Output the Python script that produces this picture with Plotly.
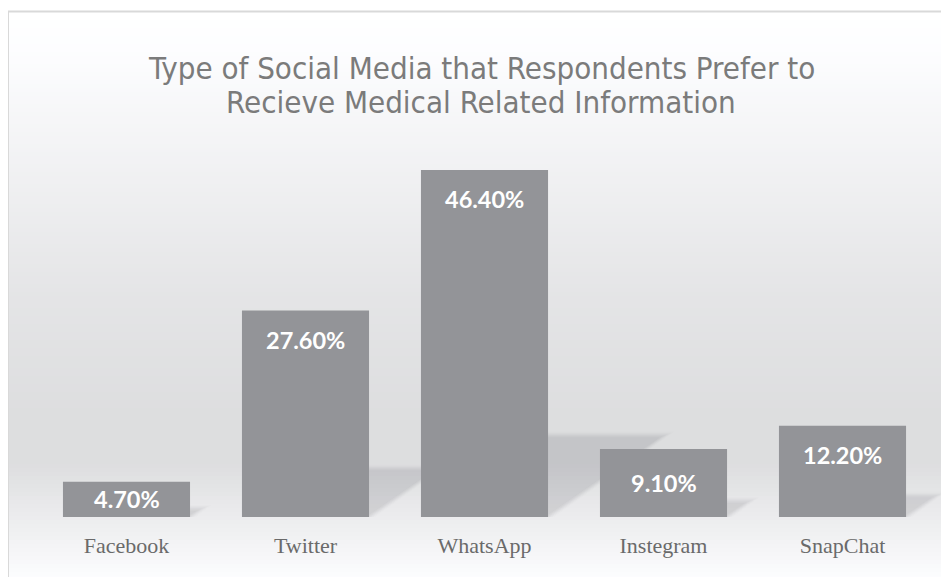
import plotly.graph_objects as go

categories = ["Facebook", "Twitter", "WhatsApp", "Instegram", "SnapChat"]
values = [4.7, 27.6, 46.4, 9.1, 12.2]
labels = ["4.70%", "27.60%", "46.40%", "9.10%", "12.20%"]
title_lines = ["Type of Social Media that Respondents Prefer to",
               "Recieve Medical Related Information"]

OFF = 8  # page offset of the figure inside the browser window
W, H = 949 - OFF, 577 - OFF
ML, MR, MT, MB = 29, 17, 135, 60
PW, PH = W - ML - MR, H - MT - MB
YMAX = 50.0
BARGAP = 0.29
N = len(categories)


def px_x(p):
    return (p - ML) / PW


def px_y(p):
    return (H - MB - p) / PH


# background gradient stops (figure pixel y, grey level)
stops = [(0, 255), (4, 255), (50, 252), (160, 241), (290, 228), (410, 221),
         (455, 221), (510, 236), (569, 252)]


def grey_at(p):
    for (a, ga), (b, gb) in zip(stops, stops[1:]):
        if a <= p <= b:
            t = (p - a) / (b - a) if b > a else 0
            return ga + (gb - ga) * t
    return stops[-1][1]


shapes = []
step = 4
y = 4
while y < H:
    g = grey_at(y + step / 2)
    r = int(round(g)); gg = int(round(min(255, g + 0.5))); bb = int(round(min(255, g + 2)))
    shapes.append(dict(type="rect", xref="paper", yref="paper",
                       x0=px_x(1), x1=px_x(W + 5), y0=px_y(y + step + 0.5), y1=px_y(y),
                       fillcolor=f"rgb({r},{gg},{bb})", line=dict(width=0), layer="below"))
    y += step

shapes.append(dict(type="rect", xref="paper", yref="paper",
                   x0=px_x(0), x1=px_x(W + 10), y0=px_y(H + 10), y1=px_y(3.5),
                   fillcolor="rgba(0,0,0,0)", line=dict(color="#d9d9d9", width=2), layer="below"))

# soft perspective shadows behind the bars
slot = PW / N
bw = slot * (1 - BARGAP)
scale = PH / YMAX
base = H - MB
layers = [(10, 0.012), (7, 0.018), (4, 0.025), (1, 0.03), (-2, 0.03), (-5, 0.025)]
for i, v in enumerate(values):
    h = v * scale
    xl = ML + slot * i + (slot - bw) / 2
    xr = xl + bw
    sh_h = 0.235 * h
    sh_d = 0.336 * h
    for grow, alpha in layers:
        top = base - sh_h - grow * 0.4
        pts = [(xl, base), (xr + grow * 0.6, base),
               (xr + sh_d + grow, top), (xl + sh_d, top)]
        path = "M " + " L ".join(f"{px_x(a):.5f},{px_y(b):.5f}" for a, b in pts) + " Z"
        shapes.append(dict(type="path", xref="paper", yref="paper", path=path,
                           fillcolor=f"rgba(60,60,70,{alpha})", line=dict(width=0), layer="below"))

fig = go.Figure()
fig.add_trace(go.Bar(
    x=categories, y=values,
    marker=dict(color="#939498", line=dict(width=0)),
    hoverinfo="skip",
))

annotations = []
lab_font = dict(family="Lato", size=23.5, color="white", weight="bold")
for c, v, lab in zip(categories, values, labels):
    if v * scale < 72:
        annotations.append(dict(x=c, y=v / 2, xref="x", yref="y", text=lab, showarrow=False,
                                font=lab_font, yanchor="middle"))
    else:
        annotations.append(dict(x=c, y=v, xref="x", yref="y", text=lab, showarrow=False,
                                font=lab_font, yanchor="middle", yshift=-29))

title_font = dict(family="DejaVu Sans Condensed", size=31, color="#7b7b7b")
for line, ypx in zip(title_lines, [60, 94]):
    annotations.append(dict(text=line, xref="paper", yref="paper", x=px_x(473), y=px_y(ypx),
                            xanchor="center", yanchor="middle", showarrow=False, font=title_font))

fig.update_layout(
    width=W, height=H,
    margin=dict(l=ML, r=MR, t=MT, b=MB),
    paper_bgcolor="white",
    plot_bgcolor="rgba(0,0,0,0)",
    bargap=BARGAP,
    showlegend=False,
    shapes=shapes,
    annotations=annotations,
    xaxis=dict(showgrid=False, zeroline=False, showline=False, ticks="",
               tickfont=dict(family="Liberation Serif", size=22, color="#6a6a6a"),
               ticklabelstandoff=13),
    yaxis=dict(range=[0, YMAX], visible=False, showgrid=False),
)

fig.write_html("out.html")
